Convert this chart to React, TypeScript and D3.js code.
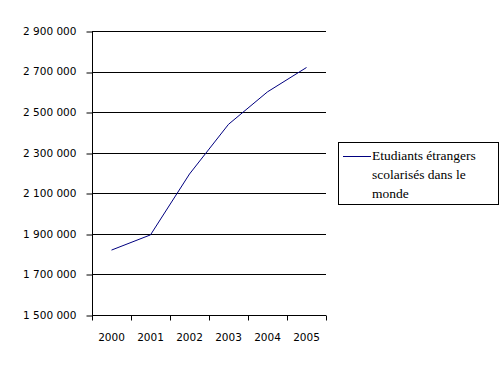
import React, { useEffect, useRef } from 'react';
import * as d3 from 'd3';

// data
const years = ['2000', '2001', '2002', '2003', '2004', '2005'];
const students = [1820000, 1895000, 2195000, 2440000, 2600000, 2720000];
const yTicks = [1500000, 1700000, 1900000, 2100000, 2300000, 2500000, 2700000, 2900000];
const seriesName = ['Etudiants étrangers', 'scolarisés dans le', 'monde'];

const App = () => {
  const ref = useRef<SVGSVGElement>(null);

  useEffect(() => {
    const width = 504;
    const height = 369;
    const left = 92;
    const right = 326;
    const top = 31;
    const bottom = 315;

    const svg = d3.select(ref.current);
    svg.selectAll('*').remove();
    svg.attr('width', width).attr('height', height);

    const x = d3.scaleBand().domain(years).range([left, right]);
    const y = d3.scaleLinear().domain([1500000, 2900000]).range([bottom, top]);

    const fmt = (v: number) => d3.format(',')(v).replace(/,/g, '\u00a0');

    // horizontal gridlines
    svg
      .append('g')
      .selectAll('line')
      .data(yTicks.slice(1))
      .enter()
      .append('line')
      .attr('x1', left)
      .attr('x2', right)
      .attr('y1', (d) => Math.round(y(d)) + 0.5)
      .attr('y2', (d) => Math.round(y(d)) + 0.5)
      .attr('stroke', 'black')
      .attr('shape-rendering', 'crispEdges');

    // y axis
    const yAxis = svg
      .append('g')
      .attr('transform', `translate(${left + 0.5},0)`)
      .call(
        d3
          .axisLeft(y)
          .tickValues(yTicks)
          .tickSize(6)
          .tickPadding(10)
          .tickFormat((d) => fmt(d as number))
      );
    yAxis.select('.domain').attr('d', `M0,${top}V${bottom}`);
    yAxis.selectAll('line').attr('transform', (d) => `translate(0,${Math.round(y(d as number)) - y(d as number) + 0.5})`);
    yAxis
      .selectAll('text')
      .attr('font-family', '"DejaVu Sans", sans-serif')
      .attr('font-size', 10.5)
      .attr('fill', 'black');

    // x axis, ticks between categories
    const xAxis = svg.append('g').attr('transform', `translate(0,${bottom + 0.5})`);
    xAxis
      .append('line')
      .attr('x1', left)
      .attr('x2', right)
      .attr('stroke', 'black');
    const edges = years.map((d) => x(d) as number).concat([right]);
    xAxis
      .selectAll('.tk')
      .data(edges)
      .enter()
      .append('line')
      .attr('x1', (d) => Math.round(d) + 0.5)
      .attr('x2', (d) => Math.round(d) + 0.5)
      .attr('y1', 0)
      .attr('y2', 5)
      .attr('stroke', 'black');
    xAxis
      .selectAll('text')
      .data(years)
      .enter()
      .append('text')
      .attr('x', (d) => (x(d) as number) + x.bandwidth() / 2)
      .attr('y', 25)
      .attr('text-anchor', 'middle')
      .attr('font-family', '"DejaVu Sans", sans-serif')
      .attr('font-size', 10.5)
      .text((d) => d);

    // series line
    const line = d3
      .line<number>()
      .x((d, i) => (x(years[i]) as number) + x.bandwidth() / 2)
      .y((d) => y(d));
    svg
      .append('path')
      .datum(students)
      .attr('d', line)
      .attr('fill', 'none')
      .attr('stroke', '#000080')
      .attr('stroke-width', 1);

    // legend
    const lg = svg.append('g');
    lg.append('rect')
      .attr('x', 338.5)
      .attr('y', 142.5)
      .attr('width', 160)
      .attr('height', 62)
      .attr('fill', 'white')
      .attr('stroke', 'black');
    lg.append('line')
      .attr('x1', 343)
      .attr('x2', 371)
      .attr('y1', 156.5)
      .attr('y2', 156.5)
      .attr('stroke', '#000080');
    lg.selectAll('text')
      .data(seriesName)
      .enter()
      .append('text')
      .attr('x', 372)
      .attr('y', (d, i) => 160 + i * 19)
      .attr('font-family', '"Liberation Serif", serif')
      .attr('font-size', 13.5)
      .text((d) => d);
  }, []);

  return (
    <div style={{ position: 'absolute', left: 0, top: 0 }}>
      <svg ref={ref}></svg>
    </div>
  );
};

export default App;
